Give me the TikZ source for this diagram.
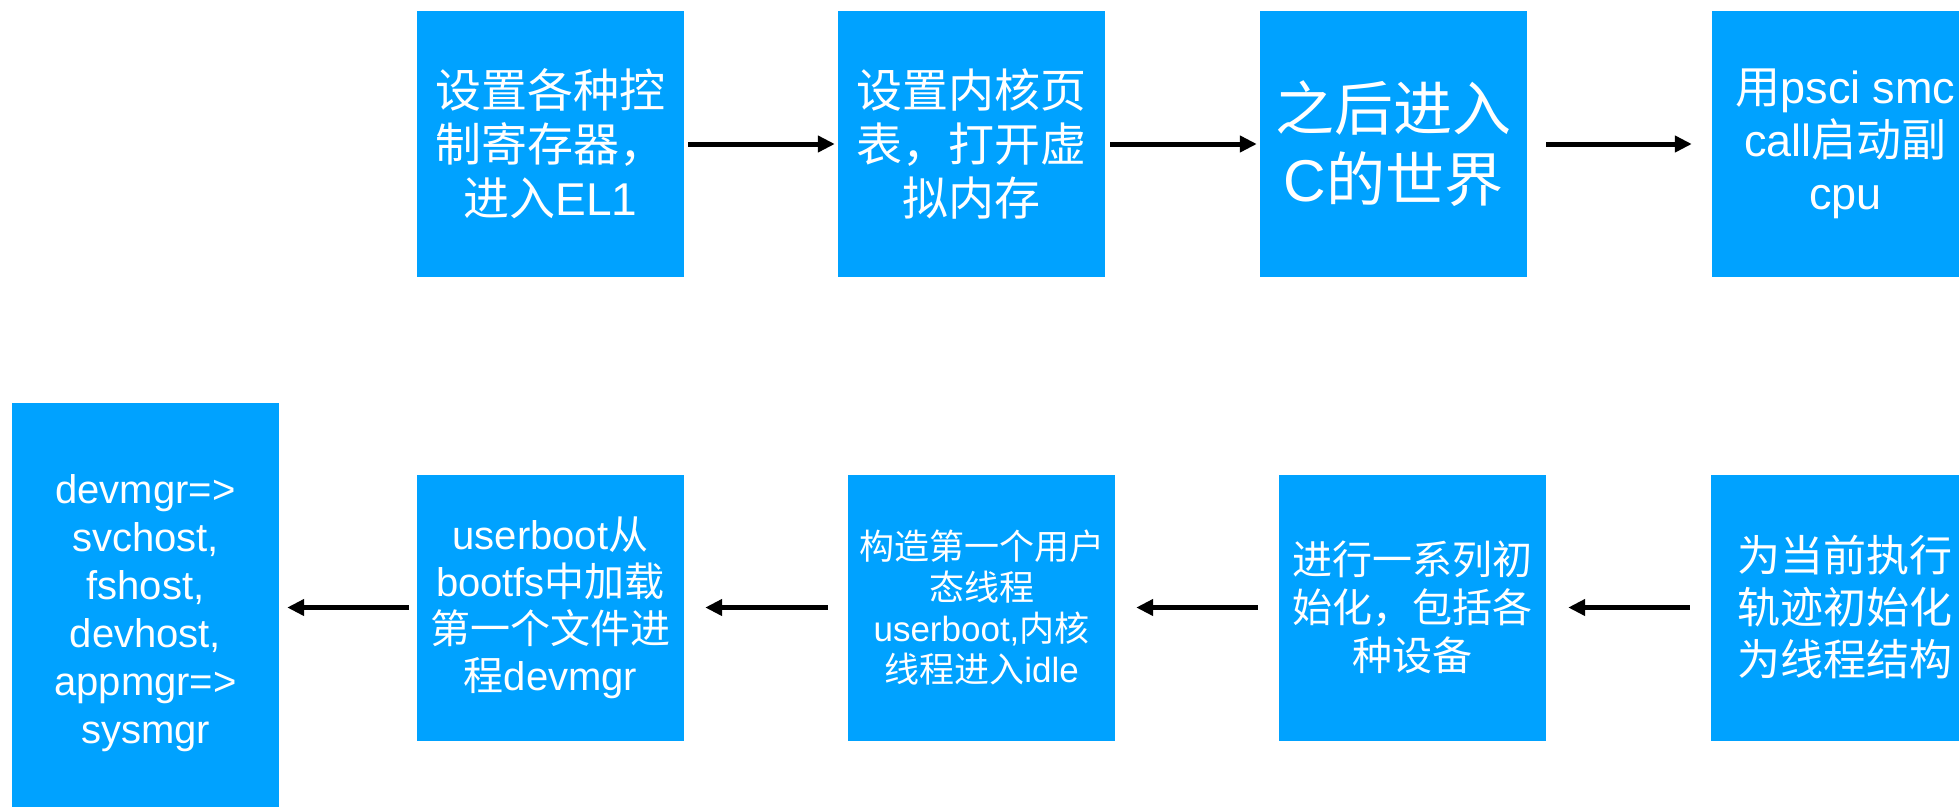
\documentclass[tikz,border=0pt]{standalone}
\usepackage{fontspec}
\setmainfont{Liberation Sans}
\newfontfamily\cjk{Noto Sans CJK SC}
\usetikzlibrary{arrows.meta}
\definecolor{boxblue}{RGB}{0,162,255}
\newcommand\zh[1]{{\cjk #1}}
\newcommand\fs[2]{\fontsize{#1}{#2}\selectfont}
\tikzset{
  box/.style={rectangle, fill=boxblue, draw=none, minimum width=267pt,
    minimum height=266pt, inner sep=0pt, text=white, align=center},
  flow/.style={line width=5pt, draw=black, -{Triangle[length=17pt,width=16pt]}},
}
\begin{document}
\begin{tikzpicture}[x=1pt,y=-1pt]
\clip (0,0) rectangle (1959,806);
\fill[white] (0,0) rectangle (1959,806);
% top row
\node[box, font={\fs{46}{54}}] (b1) at (550.5,144) {\zh{设置各种控}\\\zh{制寄存器，}\\\zh{进入}EL1};
\node[box, font={\fs{46}{54}}] (b2) at (971.5,144) {\zh{设置内核页}\\\zh{表，打开虚}\\\zh{拟内存}};
\node[box, font={\fs{59}{71}}] (b3) at (1393.5,144) {\zh{之后进入}\\C\zh{的世界}};
\node[box, font={\fs{45}{53}}] (b4) at (1845.5,144) {\zh{用}psci smc\\call\zh{启动副}\\cpu};
% bottom row
\node[box, font={\fs{43}{52}}] (c5) at (1844.5,607.5) {\zh{为当前执行}\\\zh{轨迹初始化}\\\zh{为线程结构}};
\node[box, font={\fs{40}{48}}] (c4) at (1412.5,607.5) {\zh{进行一系列初}\\\zh{始化，包括各}\\\zh{种设备}};
\node[box, font={\fs{35}{41}}] (c3) at (981.5,607.5) {\zh{构造第一个用户}\\\zh{态线程}\\userboot,\zh{内核}\\\zh{线程进入}idle};
\node[box, font={\fs{40}{47}}] (c2) at (550.5,607.5) {userboot\zh{从}\\bootfs\zh{中加载}\\\zh{第一个文件进}\\\zh{程}devmgr};
\node[box, font={\fs{40}{48}}, minimum height=420pt] (c1) at (145.5,613) {devmgr=>\\svchost,\\fshost,\\devhost,\\appmgr=>\\sysmgr};
% connectors
\draw[flow, shorten <=4pt, shorten >=3pt] (b1) -- (b2);
\draw[flow, shorten <=5pt, shorten >=3pt] (b2) -- (b3);
\draw[flow, shorten <=19pt, shorten >=20pt] (b3) -- (b4);
\draw[flow, shorten <=21pt, shorten >=22pt] (c5) -- (c4);
\draw[flow, shorten <=21pt, shorten >=21pt] (c4) -- (c3);
\draw[flow, shorten <=20pt, shorten >=21pt] (c3) -- (c2);
\draw[flow, shorten <=8pt, shorten >=8pt] (c2.west) -- (c2.west -| c1.east);
\end{tikzpicture}
\end{document}
